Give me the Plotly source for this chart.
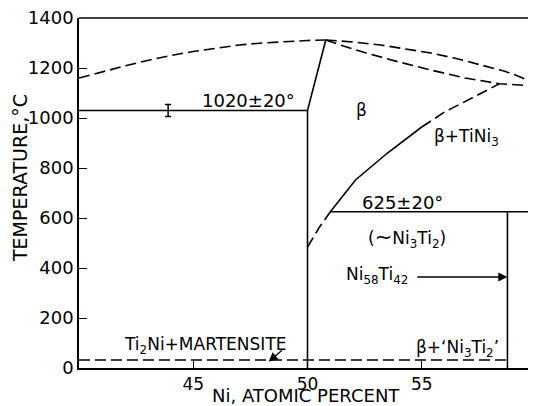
import plotly.graph_objects as go

# ---- data (Ni atomic percent vs temperature, deg C) ----
ni_liq_left = [40, 41, 42, 43, 44, 45, 46, 47, 48, 49, 50, 50.8]
t_liq_left = [1160, 1185, 1208, 1230, 1250, 1266, 1280, 1292, 1300, 1306, 1310, 1312]

ni_liq_right_upper = [50.8, 52.0, 53.2, 54.3, 55.4, 56.5, 57.6, 58.6, 59.1, 60]
t_liq_right_upper = [1312, 1304, 1292, 1276, 1260, 1238, 1212, 1188, 1172, 1138]

ni_liq_right_lower = [50.8, 51.5, 52.5, 54.0, 55.4, 56.9, 58.4, 60]
t_liq_right_lower = [1312, 1290, 1262, 1224, 1192, 1160, 1137, 1128]

ni_eutectic = [40, 50, 50.8]
t_eutectic = [1030, 1030, 1312]

ni_stoich = [50, 50]
t_stoich = [1030, 0]

ni_beta_low_dashed = [50, 50.5, 51.0]
t_beta_low_dashed = [484, 560, 625]

ni_beta_solid = [51.0, 52.1, 53.5, 55.0]
t_beta_solid = [625, 752, 860, 964]

ni_beta_high_dashed = [55.0, 56.0, 57.2, 58.4]
t_beta_high_dashed = [964, 1024, 1080, 1137]

ni_peritectoid = [51.0, 60]
t_peritectoid = [625, 625]

ni_ni58 = [58.75, 58.75]
t_ni58 = [625, 0]

ni_martensite = [40, 58.75]
t_martensite = [32, 32]

ni_errbar = [43.9]
t_errbar = [1030]
err_errbar = [24]

x_tickvals = [45, 50, 55]
y_tickvals = [0, 200, 400, 600, 800, 1000, 1200, 1400]

FONT = "DejaVu Sans"
LW = 1.6
DASH = "11px,5px"

fig = go.Figure()


def add_line(x, y, dashed=False):
    fig.add_trace(go.Scatter(
        x=x, y=y, mode="lines", hoverinfo="skip", showlegend=False,
        line=dict(color="black", width=LW, dash=DASH if dashed else "solid"),
        cliponaxis=False,
    ))


add_line(ni_liq_left, t_liq_left, dashed=True)
add_line(ni_liq_right_upper, t_liq_right_upper, dashed=True)
add_line(ni_liq_right_lower, t_liq_right_lower, dashed=True)
add_line(ni_eutectic, t_eutectic)
add_line(ni_stoich, t_stoich)
add_line(ni_beta_low_dashed, t_beta_low_dashed, dashed=True)
add_line(ni_beta_solid, t_beta_solid)
add_line(ni_beta_high_dashed, t_beta_high_dashed, dashed=True)
add_line(ni_peritectoid, t_peritectoid)
add_line(ni_ni58, t_ni58)
add_line(ni_martensite, t_martensite, dashed=True)

fig.add_trace(go.Scatter(
    x=ni_errbar, y=t_errbar, mode="markers", hoverinfo="skip", showlegend=False,
    marker=dict(size=1, color="black"),
    error_y=dict(type="data", array=err_errbar, color="black", thickness=1.5, width=3),
))


def label(text, x, y, size=17):
    fig.add_annotation(x=x, y=y, xref="x", yref="y", text=text, showarrow=False,
                       font=dict(family=FONT, size=size, color="black"),
                       xanchor="center", yanchor="middle")


label("1020±20°", 47.43, 1072, 18)
label("β", 52.35, 1032)
label("β+TiNi<sub>3</sub>", 56.95, 924)
label("625±20°", 54.17, 664, 18)
label("(<span style='font-size:21px'>∼</span>Ni<sub>3</sub>Ti<sub>2</sub>)", 54.35, 520)
label("Ni<sub>58</sub>Ti<sub>42</sub>", 53.04, 372)
label("β+‘Ni<sub>3</sub>Ti<sub>2</sub>’", 56.57, 80)
label("Ti<sub>2</sub>Ni+MARTENSITE", 45.52, 92)

# arrows
fig.add_annotation(x=58.75, y=364, ax=54.74, ay=364, xref="x", yref="y",
                   axref="x", ayref="y", text="", showarrow=True,
                   arrowhead=2, arrowsize=1.4, arrowwidth=1.3, arrowcolor="black")
fig.add_annotation(x=48.3, y=26, ax=48.95, ay=76, xref="x", yref="y",
                   axref="x", ayref="y", text="", showarrow=True,
                   arrowhead=2, arrowsize=1.3, arrowwidth=1.4, arrowcolor="black")

# axis titles
fig.add_annotation(x=-0.129, y=0.543, xref="paper", yref="paper",
                   text="TEMPERATURE,°C", textangle=-90, showarrow=False,
                   font=dict(family=FONT, size=19, color="black"),
                   xanchor="center", yanchor="middle")
fig.add_annotation(x=0.497, y=-0.079, xref="paper", yref="paper",
                   text="Ni, ATOMIC PERCENT", showarrow=False,
                   font=dict(family=FONT, size=18, color="black"),
                   xanchor="center", yanchor="middle")

# top frame line
fig.add_shape(type="line", xref="paper", yref="paper", x0=0, x1=1, y0=1, y1=1,
              line=dict(color="black", width=1.6), layer="above")

fig.update_xaxes(range=[40, 60], tickvals=x_tickvals, ticktext=[str(v) for v in x_tickvals],
                 ticks="inside", ticklen=8, tickwidth=1.3, tickcolor="black",
                 showline=True, linecolor="black", linewidth=1.6,
                 showgrid=False, zeroline=False, automargin=False,
                 ticklabeloverflow="allow",
                 tickfont=dict(family=FONT, size=17, color="black"))
fig.update_yaxes(range=[0, 1400], tickvals=y_tickvals, ticktext=[str(v) for v in y_tickvals],
                 ticks="inside", ticklen=8, tickwidth=1.3, tickcolor="black",
                 showline=True, linecolor="black", linewidth=1.6,
                 showgrid=False, zeroline=False, automargin=False,
                 ticklabeloverflow="allow",
                 tickfont=dict(family=FONT, size=18, color="black"))

# the page body adds an 8px margin, so the figure is 8px smaller on each leading side
fig.update_layout(width=528, height=398, margin=dict(l=71, r=0, t=10, b=38),
                  paper_bgcolor="white", plot_bgcolor="white",
                  font=dict(family=FONT, color="black"))

fig.write_html("out.html")
